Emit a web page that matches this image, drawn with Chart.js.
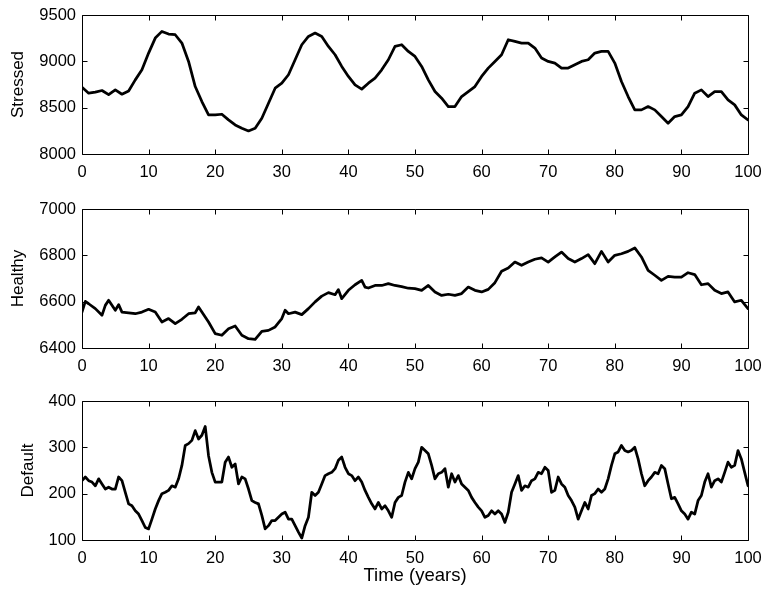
<!DOCTYPE html>
<html>
<head>
<meta charset="utf-8">
<title>Stressed, Healthy and Default over time</title>
<script src="https://cdn.jsdelivr.net/npm/chart.js@4.4.1/dist/chart.umd.min.js"></script>
<style>
  body { margin: 0; background: #fff; }
  #wrap { position: relative; width: 765px; height: 590px; overflow: hidden; }
  canvas { position: absolute; left: 0; }
</style>
</head>
<body>
<div id="wrap">
  <canvas id="stressedChart" width="765" height="193" style="top:0px"></canvas>
  <canvas id="healthyChart" width="765" height="192" style="top:193px"></canvas>
  <canvas id="defaultChart" width="765" height="205" style="top:385px"></canvas>
</div>
<script>
// Tick labels
const timeTicks = [0, 10, 20, 30, 40, 50, 60, 70, 80, 90, 100];
const stressedTicks = [8000, 8500, 9000, 9500];
const healthyTicks = [6400, 6600, 6800, 7000];
const defaultTicks = [100, 200, 300, 400];

// Stressed, one reading per year
const stressedYears = [0,1,2,3,4,5,6,7,8,9,10,11,12,13,14,15,16,17,18,19,20,21,22,23,24,25,26,27,28,29,30,
  31,32,33,34,35,36,37,38,39,40,41,42,43,44,45,46,47,48,49,50,51,52,53,54,55,56,57,58,59,60,
  61,62,63,64,65,66,67,68,69,70,71,72,73,74,75,76,77,78,79,80,81,82,83,84,85,86,87,88,89,90,
  91,92,93,94,95,96,97,98,99,100];
const stressed = [8721,8656,8667,8685,8640,8692,8645,8680,8800,8908,9089,9251,9323,9294,9287,9197,8999,8728,8566,8422,8422,
  8429,8368,8314,8278,8249,8278,8386,8548,8710,8764,8855,9017,9179,9269,9305,9269,9161,9071,8945,8837,
  8746,8700,8764,8818,8908,9017,9161,9179,9107,9053,8945,8800,8674,8602,8512,8512,8620,8674,8728,8837,
  8927,8999,9071,9233,9215,9197,9197,9143,9035,8999,8981,8927,8927,8963,8999,9017,9089,9107,9107,8981,
  8783,8620,8476,8476,8512,8476,8404,8332,8404,8422,8512,8656,8692,8620,8674,8674,8584,8530,8422,8368];

// Healthy
const healthyYears = [0,0.5,1,2,3,3.5,4,5,5.5,6,7,8,9,10,11,12,13,14,15,16,17,17.5,18,19,20,21,22,23,24,25,26,27,28,29,30,30.5,
  31,32,33,34,35,36,37,38,38.5,39,40,41,42,42.5,43,44,45,46,47,48,49,50,51,52,53,54,55,56,57,58,59,60,
  61,62,63,64,65,66,67,68,69,70,71,72,73,74,75,76,77,78,79,80,81,82,83,84,85,86,87,88,89,90,
  91,92,93,94,95,96,97,98,99,100];
const healthy = [6555,6601,6591,6570,6541,6584,6606,6563,6587,6555,6552,6548,6555,6567,6555,6512,6527,6505,6524,6548,6552,6577,6555,6512,6462,
  6455,6483,6495,6455,6440,6437,6472,6476,6491,6527,6563,6548,6555,6544,6570,6599,6624,6639,6630,6652,6613,6649,
  6673,6692,6663,6659,6670,6670,6678,6670,6665,6658,6656,6649,6670,6642,6627,6632,6627,6635,6663,6649,6642,
  6653,6682,6731,6745,6771,6757,6771,6783,6789,6771,6793,6814,6786,6771,6786,6803,6764,6817,6771,6800,
  6807,6817,6832,6793,6735,6714,6692,6709,6706,6706,6725,6717,6673,6678,6649,6635,6642,6599,6606,6570];

// Default, one reading per half year
const defaultYears = [0,0.5,1,1.5,2,2.5,3,3.5,4,4.5,5,5.5,6,6.5,7,7.5,8,8.5,9,9.5,10,10.5,11,11.5,12,12.5,13,13.5,14,14.5,
  15,15.5,16,16.5,17,17.5,18,18.5,19,19.5,20,20.5,21,21.5,22,22.5,23,23.5,24,24.5,25,25.5,26,26.5,27,27.5,28,28.5,29,29.5,
  30,30.5,31,31.5,32,32.5,33,33.5,34,34.5,35,35.5,36,36.5,37,37.5,38,38.5,39,39.5,40,40.5,41,41.5,42,42.5,43,43.5,44,44.5,
  45,45.5,46,46.5,47,47.5,48,48.5,49,49.5,50,50.5,51,51.5,52,52.5,53,53.5,54,54.5,55,55.5,56,56.5,57,57.5,58,58.5,59,59.5,
  60,60.5,61,61.5,62,62.5,63,63.5,64,64.5,65,65.5,66,66.5,67,67.5,68,68.5,69,69.5,70,70.5,71,71.5,72,72.5,73,73.5,74,74.5,
  75,75.5,76,76.5,77,77.5,78,78.5,79,79.5,80,80.5,81,81.5,82,82.5,83,83.5,84,84.5,85,85.5,86,86.5,87,87.5,88,88.5,89,89.5,
  90,90.5,91,91.5,92,92.5,93,93.5,94,94.5,95,95.5,96,96.5,97,97.5,98,98.5,99,99.5,100];
const defaults = [228,236,228,225,217,232,221,210,214,210,210,236,228,203,178,174,163,156,142,127,124,145,167,185,200,203,207,217,214,232,
  261,304,308,315,336,318,326,345,282,246,225,225,225,268,279,257,264,221,236,232,210,185,181,178,153,124,131,142,142,149,
  156,160,145,145,131,117,104,131,149,203,196,203,221,239,243,246,254,272,279,257,243,239,228,236,225,207,192,178,167,181,
  167,174,163,149,181,192,196,225,246,232,254,268,300,293,286,261,232,243,246,254,214,243,225,239,221,214,207,192,181,171,
  163,149,153,163,156,163,156,138,160,203,221,239,207,217,214,228,232,246,243,257,250,203,207,236,221,214,196,185,171,145,
  163,181,167,196,200,210,203,210,232,261,286,290,304,293,290,293,300,275,243,217,228,236,246,243,261,254,221,189,192,178,
  163,156,145,160,156,185,196,225,243,214,228,232,225,246,268,257,261,293,275,246,217];

const FONT = '"Liberation Sans", Arial, Helvetica, sans-serif';
const TICK_LEN = 5;
const PLOT_H = 139;

// MATLAB style box with inward ticks on all four sides
const matlabBox = {
  id: 'matlabBox',
  afterDatasetsDraw(chart) {
    const { ctx, chartArea: a, scales: { x, y } } = chart;
    const l = Math.round(a.left) + 0.5, r = Math.round(a.right) + 0.5;
    const t = Math.round(a.top) + 0.5, b = Math.round(a.bottom) + 0.5;
    ctx.save();
    ctx.strokeStyle = '#000';
    ctx.lineWidth = 1;
    ctx.beginPath();
    x.ticks.forEach(tk => {
      const px = Math.round(x.getPixelForValue(tk.value)) + 0.5;
      ctx.moveTo(px, b); ctx.lineTo(px, b - TICK_LEN);
      ctx.moveTo(px, t); ctx.lineTo(px, t + TICK_LEN);
    });
    y.ticks.forEach(tk => {
      const py = Math.round(y.getPixelForValue(tk.value)) + 0.5;
      ctx.moveTo(l, py); ctx.lineTo(l + TICK_LEN, py);
      ctx.moveTo(r, py); ctx.lineTo(r - TICK_LEN, py);
    });
    ctx.rect(l, t, r - l, b - t);
    ctx.stroke();
    ctx.restore();
  }
};

function makeChart(id, years, values, yTicks, yTitle, opts) {
  const canvas = document.getElementById(id);
  const xHeight = canvas.height - opts.padTop - PLOT_H;
  return new Chart(canvas, {
    type: 'line',
    data: {
      datasets: [{
        data: years.map((t, i) => ({ x: t, y: values[i] })),
        borderColor: '#000',
        borderWidth: 2.75,
        borderJoinStyle: 'round',
        borderCapStyle: 'round',
        pointRadius: 0,
        tension: 0,
        fill: false
      }]
    },
    options: {
      responsive: false,
      animation: false,
      events: [],
      layout: { padding: { top: opts.padTop, right: 17, left: 0, bottom: 0 } },
      plugins: { legend: { display: false }, tooltip: { enabled: false } },
      scales: {
        x: {
          type: 'linear',
          min: timeTicks[0],
          max: timeTicks[timeTicks.length - 1],
          afterBuildTicks: s => { s.ticks = timeTicks.map(v => ({ value: v })); },
          afterFit: s => { s.height = xHeight; s.paddingLeft = 0; s.paddingRight = 0; },
          grid: { display: false, drawTicks: false },
          border: { display: false },
          ticks: {
            color: '#000',
            font: { family: FONT, size: 16.5 },
            padding: 9,
            maxRotation: 0,
            autoSkip: false,
            callback: v => String(v)
          },
          title: {
            display: !!opts.xTitle,
            text: opts.xTitle || '',
            color: '#000',
            font: { family: FONT, size: 18.5 },
            padding: { top: 0, bottom: 3 }
          }
        },
        y: {
          type: 'linear',
          min: yTicks[0],
          max: yTicks[yTicks.length - 1],
          afterBuildTicks: s => { s.ticks = yTicks.map(v => ({ value: v })); },
          afterFit: s => { s.width = 82; s.paddingTop = 0; s.paddingBottom = 0; },
          grid: { display: false, drawTicks: false },
          border: { display: false },
          ticks: {
            color: '#000',
            font: { family: FONT, size: 16.5 },
            padding: 6,
            autoSkip: false,
            callback: v => String(v)
          },
          title: {
            display: true,
            text: yTitle,
            color: '#000',
            font: { family: FONT, size: 17 },
            padding: { top: opts.titlePad, bottom: 0 }
          }
        }
      }
    },
    plugins: [matlabBox]
  });
}

makeChart('stressedChart', stressedYears, stressed, stressedTicks, 'Stressed', { padTop: 15, titlePad: 8 });
makeChart('healthyChart', healthyYears, healthy, healthyTicks, 'Healthy', { padTop: 16, titlePad: 8 });
makeChart('defaultChart', defaultYears, defaults, defaultTicks, 'Default', { padTop: 16, titlePad: 18, xTitle: 'Time (years)' });
</script>
</body>
</html>
